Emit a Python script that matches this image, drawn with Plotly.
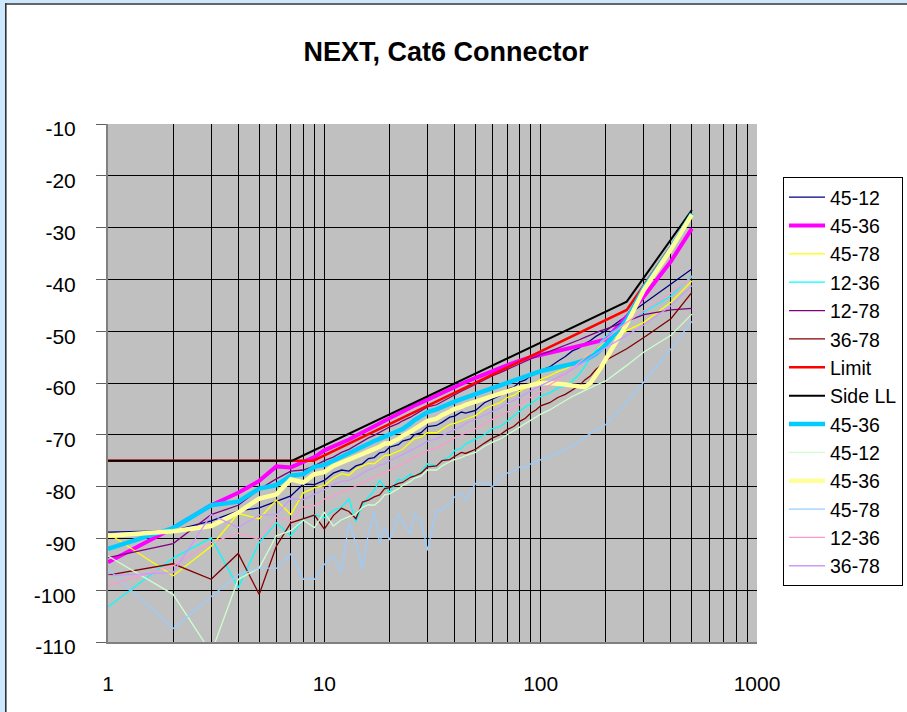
import plotly.graph_objects as go

# ---------------- data ----------------
freq = [1, 2, 3, 4, 5, 6, 7, 8, 9, 10,
        11, 12, 13, 14, 15, 16, 17, 18, 19, 20,
        22, 23, 25, 26, 28, 30, 33, 35, 38, 40,
        43, 45, 50, 55, 60, 65, 70, 75, 80, 85,
        90, 95, 100, 110, 120, 130, 140, 150, 160, 170,
        180, 190, 200, 250, 300, 400, 500]

s45_12 = [-88.8, -88.5, -86.6, -84.7, -84.1, -82.8, -81.8, -79.5, -79.6, -78.8,
          -77.4, -76.8, -77.0, -76.0, -75.6, -74.6, -74.4, -73.5, -73.3, -72.4,
          -71.9, -71.2, -70.8, -70.0, -69.6, -68.4, -68.2, -67.6, -66.6, -66.4,
          -65.6, -65.8, -65.3, -63.8, -63.0, -62.4, -61.2, -60.8, -59.8, -59.4,
          -58.6, -58.2, -57.6, -56.9, -55.8, -54.9, -53.8, -53.3, -52.4, -51.8,
          -51.0, -50.5, -49.9, -47.0, -44.6, -40.9, -38.0]
s45_36 = [-94.6, -88.0, -83.6, -81.2, -78.9, -76.1, -76.3, -75.3, -74.3, -73.0,
          -72.3, -71.6, -70.9, -70.2, -69.6, -68.9, -68.4, -67.8, -67.3, -66.8,
          -66.0, -65.5, -64.8, -64.4, -63.8, -63.2, -62.5, -62.0, -61.3, -60.8,
          -60.2, -59.8, -59.0, -58.3, -57.6, -57.1, -56.6, -56.1, -55.7, -55.3,
          -55.0, -54.8, -54.6, -54.2, -53.8, -53.5, -53.2, -52.9, -52.6, -52.3,
          -52.0, -51.8, -51.6, -47.2, -43.3, -36.5, -30.2]
s45_78 = [-89.0, -97.2, -91.5, -85.2, -86.2, -82.6, -85.4, -81.2, -80.2, -79.8,
          -78.4, -77.5, -77.8, -76.6, -76.0, -75.5, -75.6, -74.8, -74.0, -73.9,
          -73.2, -72.8, -71.4, -70.8, -70.4, -69.6, -69.6, -69.0, -68.0, -67.8,
          -67.4, -67.0, -66.3, -65.0, -64.3, -63.8, -62.8, -62.4, -61.6, -60.9,
          -60.4, -59.9, -59.3, -58.6, -57.8, -57.3, -56.6, -55.8, -55.0, -54.3,
          -53.5, -52.8, -52.1, -49.9, -48.3, -44.4, -40.3]
s12_36 = [-103.2, -93.8, -89.9, -99.5, -90.8, -87.0, -89.5, -86.3, -85.4, -86.0,
          -84.6, -84.0, -82.4, -86.8, -83.6, -82.0, -80.8, -78.8, -80.2, -81.0,
          -78.6, -78.8, -77.6, -78.2, -77.2, -75.6, -76.0, -75.0, -74.2, -73.0,
          -72.6, -71.8, -70.8, -70.0, -68.8, -68.4, -67.4, -66.4, -65.6, -64.6,
          -64.0, -63.2, -62.6, -61.9, -61.0, -60.5, -59.6, -58.4, -56.8, -55.0,
          -53.4, -52.0, -51.0, -48.3, -46.3, -43.2, -39.3]
s12_78 = [-93.7, -91.0, -85.4, -83.6, -80.5, -78.5, -77.0, -76.8, -76.0, -75.0,
          -74.3, -73.4, -72.8, -72.0, -71.3, -70.6, -70.1, -69.5, -69.0, -68.5,
          -67.8, -67.3, -66.6, -66.2, -65.4, -64.6, -64.2, -63.6, -62.8, -62.2,
          -61.6, -61.2, -60.2, -59.4, -58.6, -58.0, -57.4, -56.8, -56.3, -55.8,
          -55.3, -54.9, -54.5, -53.9, -53.3, -52.8, -52.2, -51.7, -51.2, -50.7,
          -50.3, -49.9, -49.6, -48.0, -46.8, -45.9, -45.6]
s36_78 = [-97.1, -94.9, -97.9, -92.9, -100.8, -91.5, -87.0, -86.2, -85.5, -88.2,
          -85.6, -84.2, -84.8, -86.2, -83.0, -82.6, -82.0, -81.6, -80.4, -80.2,
          -79.4, -79.2, -78.2, -78.0, -77.4, -76.2, -76.0, -75.0, -74.8, -74.2,
          -73.4, -73.6, -72.8, -71.6, -70.6, -70.0, -69.0, -68.4, -67.4, -66.8,
          -65.8, -65.2, -64.4, -63.8, -62.8, -62.2, -61.4, -60.6, -59.4, -58.6,
          -57.4, -56.6, -55.6, -53.4, -51.2, -47.6, -42.5]

limit_freq = [1, 8.9, 250, 500]
limit_vals = [-75.0, -75.0, -45.9, -27.8]
side_freq = [1, 7.1, 250, 500]
side_vals = [-75.0, -75.0, -44.3, -26.6]

b45_36 = [-92.0, -88.0, -83.6, -82.9, -80.4, -79.7, -77.9, -77.6, -76.2, -75.8,
          -75.0, -74.2, -73.5, -72.8, -72.2, -71.6, -71.2, -70.8, -70.4, -70.0,
          -69.3, -68.9, -67.8, -67.2, -66.4, -65.6, -65.1, -64.6, -63.9, -63.6,
          -63.1, -62.8, -62.2, -61.5, -60.9, -60.4, -59.9, -59.4, -59.0, -58.6,
          -58.3, -58.0, -57.7, -57.3, -57.0, -56.6, -56.3, -56.0, -55.6, -55.0,
          -54.4, -53.6, -52.6, -47.8, -41.6, -34.0, -27.3]
b45_12 = [-93.4, -100.8, -112.1, -97.9, -95.7, -89.5, -88.5, -86.5, -87.9, -85.0,
          -87.6, -86.4, -85.8, -85.3, -84.0, -83.5, -83.6, -82.8, -81.6, -81.4,
          -80.4, -79.8, -79.0, -78.4, -78.0, -76.8, -76.8, -76.0, -75.2, -74.8,
          -74.4, -74.0, -73.4, -72.2, -71.4, -70.8, -70.0, -69.2, -68.6, -67.8,
          -67.2, -66.6, -66.0, -65.2, -64.2, -63.4, -62.6, -62.0, -61.4, -60.9,
          -60.4, -60.0, -59.6, -56.6, -54.0, -50.8, -46.7]
c45_36 = [-89.5, -88.6, -87.6, -85.0, -82.3, -81.5, -78.6, -79.2, -77.6, -77.2,
          -76.0, -75.4, -74.9, -74.3, -73.7, -73.2, -72.8, -72.3, -71.7, -71.7,
          -70.8, -70.2, -69.4, -68.9, -68.2, -67.3, -66.9, -66.2, -65.5, -65.0,
          -64.6, -64.2, -63.6, -63.0, -62.5, -62.0, -61.6, -61.2, -60.9, -60.6,
          -60.4, -60.2, -60.0, -60.0, -60.1, -60.3, -60.5, -60.7, -60.8, -60.0,
          -58.6, -57.0, -55.4, -48.6, -42.0, -34.2, -27.5]
b45_78 = [-95.9, -107.4, -101.2, -97.0, -95.7, -95.8, -93.0, -97.9, -97.9, -95.0,
          -93.4, -96.6, -87.0, -91.0, -96.0, -88.9, -85.0, -90.8, -88.0, -90.3,
          -85.4, -87.0, -89.1, -85.2, -86.5, -92.3, -84.5, -84.6, -83.2, -82.0,
          -81.3, -82.6, -79.4, -79.3, -80.0, -78.0, -77.4, -77.0, -76.2, -76.4,
          -75.6, -75.2, -74.8, -74.0, -73.4, -72.8, -72.0, -71.4, -70.4, -69.8,
          -69.0, -68.6, -68.0, -63.7, -59.8, -53.4, -48.1]
b12_36 = [-99.1, -95.3, -90.8, -89.0, -90.2, -86.0, -86.6, -83.9, -83.7, -82.4,
          -81.8, -81.0, -80.6, -79.9, -79.2, -78.6, -78.2, -77.6, -77.3, -76.8,
          -76.0, -75.6, -74.8, -74.4, -73.8, -73.0, -72.6, -72.0, -71.0, -70.6,
          -70.0, -69.6, -68.8, -67.8, -67.0, -66.4, -65.6, -64.8, -64.2, -63.4,
          -62.8, -62.2, -61.6, -60.4, -59.4, -58.3, -57.2, -56.2, -55.2, -54.2,
          -53.2, -52.3, -51.5, -48.3, -46.0, -42.6, -39.6]
b36_78 = [-97.2, -96.6, -85.4, -87.9, -85.5, -85.4, -82.3, -82.5, -81.5, -80.6,
          -79.6, -79.0, -78.8, -78.2, -77.4, -76.8, -76.4, -75.8, -75.6, -75.0,
          -74.2, -73.8, -73.0, -72.6, -72.0, -71.2, -70.8, -70.2, -69.4, -69.0,
          -68.4, -67.8, -67.0, -66.2, -65.4, -64.8, -64.0, -63.4, -62.8, -62.1,
          -61.5, -61.0, -60.5, -59.7, -59.0, -58.2, -57.4, -56.6, -55.8, -55.1,
          -54.4, -53.8, -53.2, -50.8, -48.8, -45.1, -41.2]

x_tick_vals = [1, 2, 3, 4, 5, 6, 7, 8, 9, 10, 20, 30, 40, 50, 60, 70, 80, 90,
               100, 200, 300, 400, 500, 600, 700, 800, 900, 1000]
x_tick_text = ["1", "", "", "", "", "", "", "", "", "10", "", "", "", "", "", "", "", "",
               "100", "", "", "", "", "", "", "", "", "1000"]
y_tick_vals = [-10, -20, -30, -40, -50, -60, -70, -80, -90, -100, -110]
y_tick_text = ["-10", "-20", "-30", "-40", "-50", "-60", "-70", "-80", "-90", "-100", "-110"]

# ---------------- figure ----------------
FONT = "Liberation Sans, Arial, sans-serif"
W, H = 907, 712
ML, MR, MT, MB = 108, 150, 124, 70
PW, PH = W - ML - MR, H - MT - MB


def px(xp):
    return (xp - ML) / PW


def py(yp):
    return (H - MB - yp) / PH


series = [
    ("45-12", freq, s45_12, "#000080", 1.3),
    ("45-36", freq, s45_36, "#FF00FF", 4),
    ("45-78", freq, s45_78, "#FFFF00", 1.3),
    ("12-36", freq, s12_36, "#00FFFF", 1.3),
    ("12-78", freq, s12_78, "#800080", 1.3),
    ("36-78", freq, s36_78, "#800000", 1.3),
    ("Limit", limit_freq, limit_vals, "#FF0000", 2.5),
    ("Side LL", side_freq, side_vals, "#000000", 2),
    ("45-36", freq, b45_36, "#00CCFF", 4.5),
    ("45-12", freq, b45_12, "#CCFFCC", 1.3),
    ("45-36", freq, c45_36, "#FFFF99", 4.5),
    ("45-78", freq, b45_78, "#99CCFF", 1.3),
    ("12-36", freq, b12_36, "#FF99CC", 1.3),
    ("36-78", freq, b36_78, "#CC99FF", 1.3),
]

fig = go.Figure()
for name, xs, ys, color, width in series:
    fig.add_trace(go.Scatter(x=xs, y=ys, mode="lines", name=name,
                             line=dict(color=color, width=width)))

frame_blue = "#CCE8FF"
shapes = [
    dict(type="rect", xref="paper", yref="paper", x0=px(-5), x1=px(W + 5),
         y0=py(3.2), y1=py(-5), fillcolor=frame_blue, line=dict(width=0), layer="above"),
    dict(type="rect", xref="paper", yref="paper", x0=px(-5), x1=px(5.0),
         y0=py(H + 5), y1=py(-5), fillcolor=frame_blue, line=dict(width=0), layer="above"),
    dict(type="rect", xref="paper", yref="paper", x0=px(5.0), x1=px(W + 5),
         y0=py(4.8), y1=py(3.2), fillcolor="#333333", line=dict(width=0), layer="above"),
    dict(type="rect", xref="paper", yref="paper", x0=px(5.0), x1=px(6.6),
         y0=py(H + 5), y1=py(3.2), fillcolor="#333333", line=dict(width=0), layer="above"),
]

fig.update_layout(
    width=W, height=H,
    margin=dict(l=ML, r=MR, t=MT, b=MB, autoexpand=False),
    paper_bgcolor="white",
    plot_bgcolor="#C0C0C0",
    font=dict(family=FONT, color="black"),
    title=dict(text="<b>NEXT, Cat6 Connector</b>", font=dict(size=27, family=FONT),
               x=px(446), xref="paper", xanchor="center",
               y=1 - 52 / H, yref="container", yanchor="middle"),
    showlegend=True,
    legend=dict(x=px(783), y=py(177), xanchor="left", yanchor="top",
                bgcolor="white", bordercolor="black", borderwidth=1,
                font=dict(size=19.5, family=FONT), tracegroupgap=0, itemwidth=36),
    shapes=shapes,
)
fig.update_xaxes(type="log", range=[0, 3], tickvals=x_tick_vals, ticktext=x_tick_text,
                 showgrid=True, gridcolor="black", gridwidth=1, ticks="",
                 showline=True, linecolor="#808080", linewidth=2, zeroline=False,
                 tickfont=dict(size=21, family=FONT), ticklabelstandoff=22)
fig.update_yaxes(range=[-110, -10], tickvals=y_tick_vals, ticktext=y_tick_text,
                 showgrid=True, gridcolor="black", gridwidth=1, ticks="outside",
                 ticklen=10, tickcolor="#606060", tickwidth=1, showline=True,
                 linecolor="#808080", linewidth=2, zeroline=False,
                 tickfont=dict(size=21, family=FONT), ticklabelstandoff=16,
                 ticklabelshift=5)

fig.write_html("out.html", config={"displayModeBar": False},
               post_script="document.body.style.margin='0';document.body.style.overflow='hidden';")
